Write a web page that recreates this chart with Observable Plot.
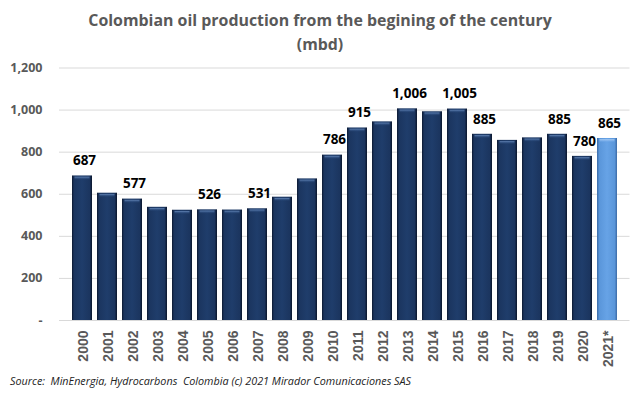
<!DOCTYPE html>
<html><head><meta charset="utf-8">
<script src="https://cdn.jsdelivr.net/npm/d3@7"></script>
<script src="https://cdn.jsdelivr.net/npm/@observablehq/plot@0.6"></script>
<style>
html,body{margin:0;padding:0;background:#fff;}
body{width:640px;height:395px;overflow:hidden;position:relative;}
#title{font-family:"Open Sans",sans-serif;font-weight:bold;font-size:15.9px;color:#595959;text-align:center;line-height:24px;padding-top:8px;height:48px;}
#chart{position:absolute;left:0;top:56px;}
#cap{position:absolute;left:10px;top:373px;font-family:"Open Sans",sans-serif;font-style:italic;font-size:10.8px;line-height:16px;color:#222;white-space:pre;}
</style>
</head><body>
<div id="title">Colombian oil production from the begining of the century<br>(mbd)</div>
<div id="chart"></div>
<div id="cap">Source:  MinEnergia, Hydrocarbons  Colombia (c) 2021 Mirador Comunicaciones SAS</div>
<script>
const years = ["2000","2001","2002","2003","2004","2005","2006","2007","2008","2009","2010","2011","2012","2013","2014","2015","2016","2017","2018","2019","2020","2021*"];
const production = [687,605,577,538,524,526,525,531,586,673,786,915,944,1006,992,1005,885,856,868,885,780,865];
const labelled = ["2000","2002","2005","2007","2010","2011","2013","2015","2016","2019","2020","2021*"];
const yTicks = [0,200,400,600,800,1000,1200];

const data = years.map((y,i)=>({year:y, value:production[i], estimate: y === "2021*"}));
const past = data.filter(d=>!d.estimate);
const est = data.filter(d=>d.estimate);
const labels = data.filter(d=>labelled.includes(d.year));

const chart = Plot.plot({
  width: 640,
  height: 318,
  marginTop: 11.5,
  marginBottom: 54,
  marginLeft: 59,
  marginRight: 10.5,
  x: {domain: years, padding: 0.21, label: null},
  y: {domain: [0,1200], label: null},
  marks: [
    Plot.gridY(yTicks, {stroke: "#d9d9d9", strokeOpacity: 1}),
    Plot.barY(past, {x: "year", y: "value", fill: "url(#gDark)"}),
    Plot.barY(est, {x: "year", y: "value", fill: "url(#gLight)"}),
    Plot.rect(past, {x: "year", y1: d => d.value - 22, y2: d => d.value - 6, fill: "url(#hDark)", insetLeft: 2.5, insetRight: 2.5}),
    Plot.rect(est, {x: "year", y1: d => d.value - 22, y2: d => d.value - 6, fill: "url(#hLight)", insetLeft: 2.5, insetRight: 2.5}),
    Plot.axisY(yTicks, {tickSize: 0, tickPadding: 17, tickFormat: d => d === 0 ? "-" : d3.format(",")(d),
      fontFamily: "Open Sans", fontWeight: "bold", fontSize: 12.5, fill: "#595959"}),
    Plot.axisX({tickSize: 0, tickPadding: 10, tickRotate: -90, dx: 1,
      fontFamily: "Liberation Sans", fontWeight: "bold", fontSize: 14, fill: "#595959"}),
    Plot.text(labels, {x: "year", y: "value", text: d => d3.format(",")(d.value), dy: -15, dx: 2,
      fontFamily: "Open Sans", fontWeight: "bold", fontSize: 13.5, fill: "#000"})
  ]
});

const svg = d3.select(chart);
const defs = svg.insert("defs", ":first-child");
function hgrad(id, stops){
  const g = defs.append("linearGradient").attr("id", id).attr("x1","0").attr("x2","1").attr("y1","0").attr("y2","0");
  stops.forEach(([o,c,a])=>g.append("stop").attr("offset",o).attr("stop-color",c).attr("stop-opacity", a===undefined?1:a));
}
hgrad("gDark", [["0%","#0c1830"],["10%","#1b355f"],["50%","#1f3d6b"],["88%","#1b355f"],["100%","#0a152b"]]);
hgrad("gLight", [["0%","#3a6aa6"],["12%","#5a96da"],["50%","#67a3e6"],["88%","#5a96da"],["100%","#3b6aa5"]]);
function vgrad(id, stops){
  const g = defs.append("linearGradient").attr("id", id).attr("x1","0").attr("x2","0").attr("y1","0").attr("y2","1");
  stops.forEach(([o,c,a])=>g.append("stop").attr("offset",o).attr("stop-color",c).attr("stop-opacity", a));
}
vgrad("hDark", [["0%","#6d8fc0",0.9],["45%","#3d5f92",0.6],["100%","#1f3d6b",0]]);
vgrad("hLight", [["0%","#b8d6f7",0.9],["45%","#8ab8ef",0.6],["100%","#67a3e6",0]]);

document.getElementById("chart").appendChild(chart);
</script>
</body></html>
